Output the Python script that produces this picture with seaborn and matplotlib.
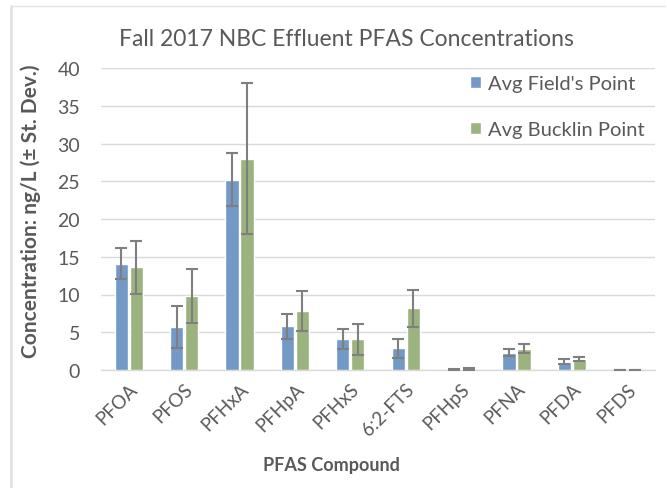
import matplotlib
matplotlib.use("Agg")
import matplotlib.pyplot as plt
from matplotlib.lines import Line2D
import pandas as pd
import seaborn as sns

compounds = ["PFOA", "PFOS", "PFHxA", "PFHpA", "PFHxS", "6:2-FTS",
             "PFHpS", "PFNA", "PFDA", "PFDS"]
fields_mean = [14.1, 5.7, 25.2, 5.8, 4.1, 2.9, 0.05, 2.3, 1.1, 0.02]
fields_sd = [2.0, 2.75, 3.5, 1.65, 1.35, 1.25, 0.02, 0.5, 0.3, 0.01]
bucklin_mean = [13.6, 9.8, 28.0, 7.8, 4.1, 8.15, 0.15, 2.8, 1.45, 0.02]
bucklin_sd = [3.5, 3.6, 10.0, 2.65, 2.05, 2.5, 0.12, 0.6, 0.3, 0.01]
series_names = ["Avg Field's Point", "Avg Bucklin Point"]

df = pd.DataFrame({
    "Compound": compounds * 2,
    "Value": fields_mean + bucklin_mean,
    "Series": [series_names[0]] * len(compounds) + [series_names[1]] * len(compounds),
})

sns.set_style("white")
plt.rcParams["font.family"] = ["Lato", "DejaVu Sans"]

TXT = "#595959"
GRID = "#d9d9d9"
BLUE = "#7399c6"
GREEN = "#9bb37f"
FS = 13.5

fig = plt.figure(figsize=(6.67, 4.89), dpi=100)
ax = fig.add_axes([101 / 667, 1 - 371 / 489, 554 / 667, 302 / 489])

sns.barplot(data=df, x="Compound", y="Value", hue="Series",
            palette=[BLUE, GREEN], saturation=1, width=0.54, gap=0.12,
            errorbar=None, ax=ax, zorder=3)

# standard-deviation whiskers on each bar
for cont, sds in zip(ax.containers, [fields_sd, bucklin_sd]):
    xs = [b.get_x() + b.get_width() / 2 for b in cont]
    hs = [b.get_height() for b in cont]
    ax.errorbar(xs, hs, yerr=sds, fmt="none", ecolor="#7f7f7f",
                elinewidth=1.5, capsize=4, capthick=1.5, zorder=4)

ax.set_ylim(0, 40)
ax.set_xlim(-0.5, len(compounds) - 0.5)
ax.set_yticks(range(0, 41, 5))
ax.yaxis.grid(True, color=GRID, linewidth=1, zorder=0)
ax.set_axisbelow(True)
for s in ["top", "right", "left"]:
    ax.spines[s].set_visible(False)
ax.spines["bottom"].set_color(GRID)
ax.spines["bottom"].set_linewidth(1)

ax.tick_params(axis="y", length=0, pad=15, labelsize=14, labelcolor=TXT)
ax.tick_params(axis="x", length=0, pad=7, labelsize=FS, labelcolor=TXT)
plt.setp(ax.get_yticklabels(), ha="right")
plt.setp(ax.get_xticklabels(), rotation=45, ha="right", rotation_mode="anchor")

ax.set_xlabel("PFAS Compound", fontsize=13, fontweight="bold", color=TXT)
ax.xaxis.set_label_coords((331 - 101) / 554, (371 - 466) / 302)
ax.xaxis.label.set_va("center")
ax.set_ylabel("Concentration: ng/L (\u00b1 St. Dev.)", fontsize=15,
              fontweight="bold", color=TXT)
ax.yaxis.set_label_coords((31 - 101) / 554, (371 - 211) / 302)
ax.yaxis.label.set_va("center")
fig.text(346 / 667, 1 - 40 / 489, "Fall 2017 NBC Effluent PFAS Concentrations",
         fontsize=16.5, color=TXT, ha="center", va="center")

handles, labels = ax.get_legend_handles_labels()
leg = ax.legend(handles, labels, loc="upper left",
                bbox_to_anchor=((470 - 101) / 554, 1 - (76 - 69) / 302),
                frameon=False, fontsize=14.5, labelspacing=1.45,
                handlelength=0.55, handleheight=0.55, handletextpad=0.35,
                borderaxespad=0, borderpad=0)
for t in leg.get_texts():
    t.set_color(TXT)

# chart frame edges
fig.add_artist(Line2D([11 / 667, 11 / 667], [0, 1 - 7 / 489],
                      transform=fig.transFigure, color="#e3e3e3", linewidth=2))
fig.add_artist(Line2D([11 / 667, 665 / 667], [1 - 7 / 489, 1 - 7 / 489],
                      transform=fig.transFigure, color="#e3e3e3", linewidth=1))

fig.savefig("out.png", dpi=100)
